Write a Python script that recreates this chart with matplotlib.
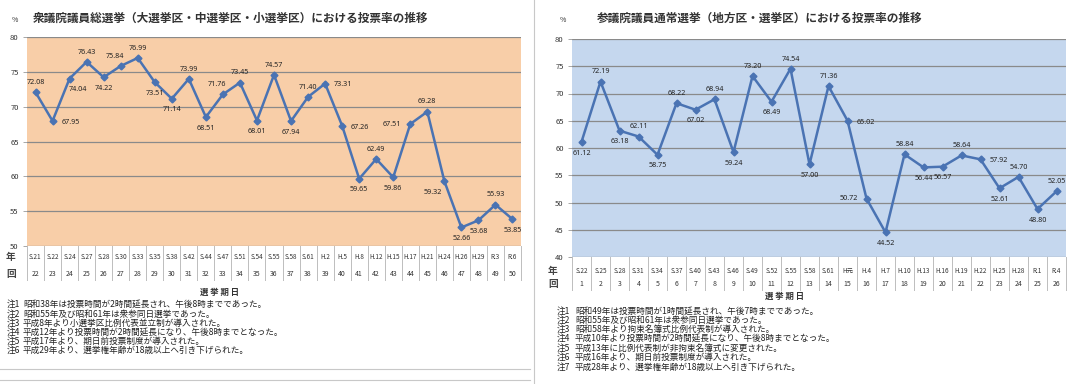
import matplotlib
matplotlib.use("Agg")
import matplotlib.pyplot as plt
from matplotlib.lines import Line2D

plt.rcParams['font.family'] = ['Noto Sans CJK JP', 'DejaVu Sans']

# ---------------- data ----------------
shu_years = ["S.21", "S.22", "S.24", "S.27", "S.28", "S.30", "S.33", "S.35", "S.38", "S.42",
             "S.44", "S.47", "S.51", "S.54", "S.55", "S.58", "S.61", "H.2", "H.5", "H.8",
             "H.12", "H.15", "H.17", "H.21", "H.24", "H.26", "H.29", "R.3", "R.6"]
shu_rounds = list(range(22, 51))
shu_turnout = [72.08, 67.95, 74.04, 76.43, 74.22, 75.84, 76.99, 73.51, 71.14, 73.99,
               68.51, 71.76, 73.45, 68.01, 74.57, 67.94, 71.40, 73.31, 67.26, 59.65,
               62.49, 59.86, 67.51, 69.28, 59.32, 52.66, 53.68, 55.93, 53.85]

san_years = ["S.22", "S.25", "S.28", "S.31", "S.34", "S.37", "S.40", "S.43", "S.46", "S.49",
             "S.52", "S.55", "S.58", "S.61", "H元", "H.4", "H.7", "H.10", "H.13", "H.16",
             "H.19", "H.22", "H.25", "H.28", "R.1", "R.4"]
san_rounds = list(range(1, 27))
san_turnout = [61.12, 72.19, 63.18, 62.11, 58.75, 68.22, 67.02, 68.94, 59.24, 73.20,
               68.49, 74.54, 57.00, 71.36, 65.02, 50.72, 44.52, 58.84, 56.44, 56.57,
               58.64, 57.92, 52.61, 54.70, 48.80, 52.05]

shu_title = "衆議院議員総選挙（大選挙区・中選挙区・小選挙区）における投票率の推移"
san_title = "参議院議員通常選挙（地方区・選挙区）における投票率の推移"

shu_notes = [
    ("注1", "昭和38年は投票時間が2時間延長され、午後8時までであった。"),
    ("注2", "昭和55年及び昭和61年は衆参同日選挙であった。"),
    ("注3", "平成8年より小選挙区比例代表並立制が導入された。"),
    ("注4", "平成12年より投票時間が2時間延長になり、午後8時までとなった。"),
    ("注5", "平成17年より、期日前投票制度が導入された。"),
    ("注6", "平成29年より、選挙権年齢が18歳以上へ引き下げられた。"),
]
san_notes = [
    ("注1", "昭和49年は投票時間が1時間延長され、午後7時までであった。"),
    ("注2", "昭和55年及び昭和61年は衆参同日選挙であった。"),
    ("注3", "昭和58年より拘束名簿式比例代表制が導入された。"),
    ("注4", "平成10年より投票時間が2時間延長になり、午後8時までとなった。"),
    ("注5", "平成13年に比例代表制が非拘束名簿式に変更された。"),
    ("注6", "平成16年より、期日前投票制度が導入された。"),
    ("注7", "平成28年より、選挙権年齢が18歳以上へ引き下げられた。"),
]

# label placement (style only)
shu_place = ["a", "r", "br", "a", "b", "al", "a", "b", "b", "a",
             "b", "al", "a", "b", "a", "b", "a", "r", "r", "b",
             "a", "b", "l", "a", "bl", "b", "b", "a", "b"]
san_place = ["b", "a", "b", "a", "b", "a", "b", "a", "b", "a",
             "b", "a", "b", "a", "r", "l", "b", "a", "b", "b",
             "a", "r", "b", "a", "b", "a"]

LINE = "#4a73b3"
W, H = 1080, 384
fig = plt.figure(figsize=(W / 100, H / 100), dpi=100)


def px_axes(x0, y0, x1, y1):
    return fig.add_axes([x0 / W, 1 - y1 / H, (x1 - x0) / W, (y1 - y0) / H])


def panel(ax, years, rounds, vals, place, ymin, face, ax_px, row_px, table_px,
          rowlabel_x, title, title_x, pct_x, xlabel_x, xlabel_y):
    x0, y0, x1, y1 = ax_px
    n = len(vals)
    xs = list(range(n))
    ax.set_facecolor(face)
    ax.set_xlim(-0.5, n - 0.5)
    ax.set_ylim(ymin, 80)
    ax.set_yticks(range(ymin, 81, 5))
    ax.yaxis.grid(True, color="#8a8a8a", lw=0.9)
    ax.set_axisbelow(True)
    for s in ax.spines.values():
        s.set_visible(False)
    ax.tick_params(axis="y", length=3, width=0.6, color="#999999", labelsize=5.5,
                   labelcolor="#333333", pad=3)
    ax.set_xticks([])
    ax.plot(xs, vals, color=LINE, lw=1.8, marker="D", ms=3.5, zorder=3)
    off = {"a": (0, 7), "b": (0, -8), "r": (13, -1), "l": (-13, 0),
           "al": (-4, 7), "bl": (-8, -8), "br": (6, -8)}
    for x, v, p in zip(xs, vals, place):
        dx, dy = off[p]
        ax.annotate(f"{v:.2f}", (x, v), xytext=(dx, dy), textcoords="offset points",
                    ha="center", va="center", fontsize=5.2, color="#222222",
                    family=["Noto Sans", "DejaVu Sans"])
    h = y1 - y0
    tr = ax.get_xaxis_transform()
    bottom = -table_px / h
    for i in range(n + 1):
        ax.plot([i - 0.5, i - 0.5], [0, bottom], transform=tr, color="#bdbdbd",
                lw=0.7, clip_on=False)
    ry1 = -row_px[0] / h
    ry2 = -row_px[1] / h
    for x, yr, r in zip(xs, years, rounds):
        ax.text(x, ry1, yr, transform=tr, ha="center", va="center", fontsize=4.6,
                color="#333333")
        ax.text(x, ry2, str(r), transform=tr, ha="center", va="center", fontsize=5,
                color="#333333")
    fig.text(rowlabel_x / W, 1 - (y1 + row_px[0]) / H, "年", ha="center", va="center",
             fontsize=7, fontweight="bold", color="#444444")
    fig.text(rowlabel_x / W, 1 - (y1 + row_px[1]) / H, "回", ha="center", va="center",
             fontsize=7, fontweight="bold", color="#444444")
    fig.text(title_x / W, 1 - 18 / H, title, ha="left", va="center", fontsize=8.4,
             fontweight="bold", color="#333333")
    fig.text(pct_x / W, 1 - 20 / H, "%", ha="center", va="center", fontsize=5,
             color="#333333")
    fig.text(xlabel_x / W, 1 - xlabel_y / H, "選 挙 期 日", ha="center", va="center",
             fontsize=6, fontweight="bold", color="#333333")


ax1_px = (27, 37, 521, 246)
ax1 = px_axes(*ax1_px)
panel(ax1, shu_years, shu_rounds, shu_turnout, shu_place, 50, "#f8cea8", ax1_px,
      (11, 28), 34, 11, shu_title, 33, 15, 220, 292)

ax2_px = (572, 39, 1066, 257)
ax2 = px_axes(*ax2_px)
panel(ax2, san_years, san_rounds, san_turnout, san_place, 40, "#c5d7ee", ax2_px,
      (14, 27), 33, 553, san_title, 597, 563, 785, 296)

for i, (k, t) in enumerate(shu_notes):
    y = [304, 314, 323, 332, 341, 350][i]
    fig.text(7 / W, 1 - y / H, k, ha="left", va="center", fontsize=6.2, color="#222222")
    fig.text(23 / W, 1 - y / H, t, ha="left", va="center", fontsize=6.2, color="#222222")
for i, (k, t) in enumerate(san_notes):
    y = [311, 320, 329, 338, 348, 357, 367][i]
    fig.text(557 / W, 1 - y / H, k, ha="left", va="center", fontsize=6.2, color="#222222")
    fig.text(575 / W, 1 - y / H, t, ha="left", va="center", fontsize=6.2, color="#222222")

fig.add_artist(Line2D([534 / W, 534 / W], [0, 1], color="#c8c8c8", lw=0.8))
for yy in (369, 380):
    fig.add_artist(Line2D([0, 530 / W], [1 - yy / H, 1 - yy / H], color="#c8c8c8", lw=0.8))

fig.savefig("out.png", dpi=100)
